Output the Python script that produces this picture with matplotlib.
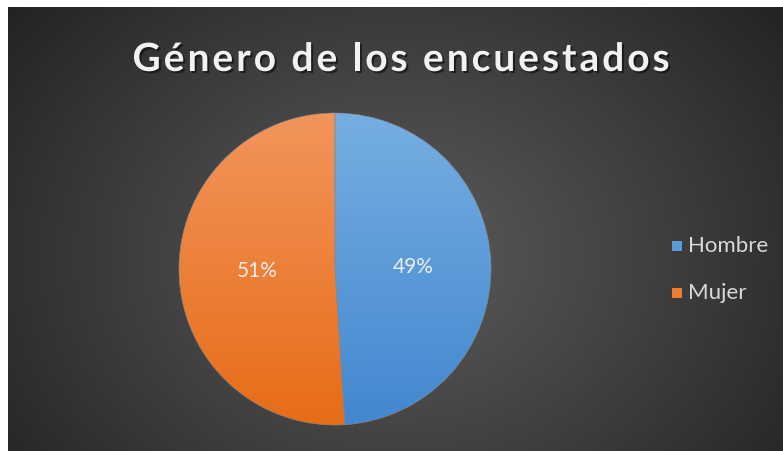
import numpy as np
import matplotlib
matplotlib.use("Agg")
import matplotlib.pyplot as plt
import matplotlib.patheffects as pe
from matplotlib.colors import LinearSegmentedColormap

# data
labels = ["Hombre", "Mujer"]
values = [49, 51]
title = "Género de los encuestados"

# gradient colours per slice (top, bottom)
grad_colors = [("#76aee2", "#4287cf"), ("#f2955c", "#e76c17")]
legend_colors = ["#5b9bd5", "#ed7d31"]

W, H = 783, 451
fig = plt.figure(figsize=(W / 100, H / 100), dpi=100)
fig.patch.set_facecolor("white")

# dark radial background
bg = fig.add_axes([8 / W, 0, (W - 8) / W, (H - 7) / H])
bg.set_axis_off()
yy, xx = np.mgrid[0:444, 0:775]
d = np.sqrt(((xx - 390) / 520) ** 2 + ((yy - 250) / 420) ** 2)
d = np.clip(d, 0, 1)
c0, c1 = 0x5a / 255, 0x20 / 255
img = c0 + (c1 - c0) * d ** 1.1
bg.imshow(np.dstack([img, img, img]), aspect="auto", interpolation="bilinear")

# pie
cx, cy, r = 335, H - 269, 156
ax = fig.add_axes([(cx - r) / W, (cy - r) / H, 2 * r / W, 2 * r / H])
wedges, texts, autotexts = ax.pie(
    values, startangle=90, counterclock=False, autopct="%1.0f%%",
    pctdistance=0.5, wedgeprops=dict(linewidth=0.4, edgecolor="#8a8a8a"),
    textprops=dict(color="#ececec", fontsize=15, family="Lato"))
ax.set_xlim(-1, 1)
ax.set_ylim(-1, 1)
grad = np.linspace(0, 1, 256).reshape(-1, 1)
for w, (ct, cb) in zip(wedges, grad_colors):
    cmap = LinearSegmentedColormap.from_list("g", [ct, cb])
    w.set_facecolor("none")
    im = ax.imshow(grad, cmap=cmap, extent=(-1, 1, -1, 1), aspect="auto",
                   origin="upper", zorder=0.5)
    im.set_clip_path(w)
for t in autotexts:
    t.set_zorder(5)

# title with letter spacing, drawn char by char
tfont = dict(family="Lato", weight="bold", fontsize=28, color="#f2f2f2")
shadow = [pe.withSimplePatchShadow(offset=(1.5, -1.5), shadow_rgbFace="black", alpha=0.5)]
renderer = fig.canvas.get_renderer()
prefix_w = []
for i in range(len(title) + 1):
    t = fig.text(0, 0, title[:i] + "|", **tfont)
    bar = fig.text(0, 0, "|", **tfont)
    prefix_w.append(t.get_window_extent(renderer).width - bar.get_window_extent(renderer).width)
    t.remove()
    bar.remove()
target_w = 537
spacing = (target_w - prefix_w[-1]) / (len(title) - 1)
x0 = 401 - target_w / 2
for i, ch in enumerate(title):
    x = x0 + prefix_w[i] + i * spacing
    fig.text(x / W, (H - 71) / H, ch, ha="left", va="baseline",
             path_effects=shadow, **tfont)

# legend
for i, (lab, col) in enumerate(zip(labels, legend_colors)):
    y = H - (246 + i * 47)
    fig.patches.append(plt.Rectangle(((672) / W, (y - 5) / H), 10 / W, 10 / H,
                                     transform=fig.transFigure, facecolor=col,
                                     edgecolor="none"))
    fig.text(688 / W, y / H, lab, va="center", ha="left", color="#d9d9d9",
             fontsize=16, family="Lato")

fig.savefig("out.png", dpi=100, facecolor=fig.get_facecolor())
